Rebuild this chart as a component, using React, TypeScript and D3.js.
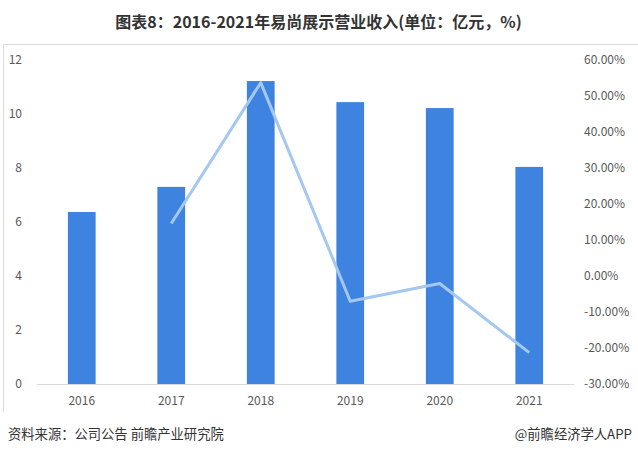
import React from "react";
import * as d3 from "d3";

const years = ["2016", "2017", "2018", "2019", "2020", "2021"];
const revenue = [6.37, 7.3, 11.22, 10.44, 10.22, 8.04];
const growth: (number | null)[] = [null, 14.6, 53.7, -7.0, -2.1, -21.3];
const leftTicks = [0, 2, 4, 6, 8, 10, 12];
const rightTicks = [-30, -20, -10, 0, 10, 20, 30, 40, 50, 60];

const W = 638;
const H = 453;
const M = { left: 37, right: 574, top: 60, bottom: 384 };

export default function App() {
  const x = d3.scaleBand<string>().domain(years).range([M.left, M.right]).paddingInner(0.69).paddingOuter(0.345);
  const yL = d3.scaleLinear().domain([0, 12]).range([M.bottom, M.top]);
  const yR = d3.scaleLinear().domain([-30, 60]).range([M.bottom, M.top]);
  const pts = years
    .map((y, i) => ({ y, v: growth[i] }))
    .filter((d) => d.v !== null) as { y: string; v: number }[];
  const line = d3
    .line<{ y: string; v: number }>()
    .x((d) => (x(d.y) as number) + x.bandwidth() / 2)
    .y((d) => yR(d.v));
  const font = "'Microsoft YaHei', 'Noto Sans CJK SC', sans-serif";
  const tickColor = "#595959";
  return (
    <div style={{ position: "absolute", left: 0, top: 0 }}>
      <svg width={W} height={H} style={{ display: "block", background: "#fff" }}>
        <text x={318.5} y={28} textAnchor="middle" fontFamily={font} fontWeight="bold" fontSize={16} fill="#333">
          图表8：2016-2021年易尚展示营业收入(单位：亿元，%)
        </text>
        <line x1={3} x2={W} y1={44.5} y2={44.5} stroke="#d9d9d9" />
        <line x1={3.5} x2={3.5} y1={44} y2={412} stroke="#d9d9d9" />
        <line x1={M.left} x2={M.right} y1={M.bottom + 0.5} y2={M.bottom + 0.5} stroke="#d9d9d9" />
        {leftTicks.map((t) => (
          <text key={t} x={22} y={yL(t) + 4} textAnchor="end" fontFamily={font} fontSize={12} fill={tickColor}>
            {t}
          </text>
        ))}
        {rightTicks.map((t) => (
          <text key={t} x={584} y={yR(t) + 4} textAnchor="start" fontFamily={font} fontSize={12} fill={tickColor}>
            {t.toFixed(2) + "%"}
          </text>
        ))}
        {years.map((y, i) => (
          <rect
            key={y}
            x={x(y)}
            y={yL(revenue[i])}
            width={x.bandwidth()}
            height={yL(0) - yL(revenue[i])}
            fill="#3f83e0"
          />
        ))}
        {years.map((y) => (
          <text
            key={y}
            x={(x(y) as number) + x.bandwidth() / 2}
            y={405}
            textAnchor="middle"
            fontFamily={font}
            fontSize={12}
            fill={tickColor}
          >
            {y}
          </text>
        ))}
        <path d={line(pts) || ""} fill="none" stroke="#a4c8f0" strokeWidth={3} strokeLinejoin="round" />
        <text x={8} y={439} fontFamily={font} fontSize={13.3} fill="#333">
          资料来源：公司公告 前瞻产业研究院
        </text>
        <text x={632} y={439} textAnchor="end" fontFamily={font} fontSize={13.3} fill="#333">
          @前瞻经济学人APP
        </text>
      </svg>
    </div>
  );
}
